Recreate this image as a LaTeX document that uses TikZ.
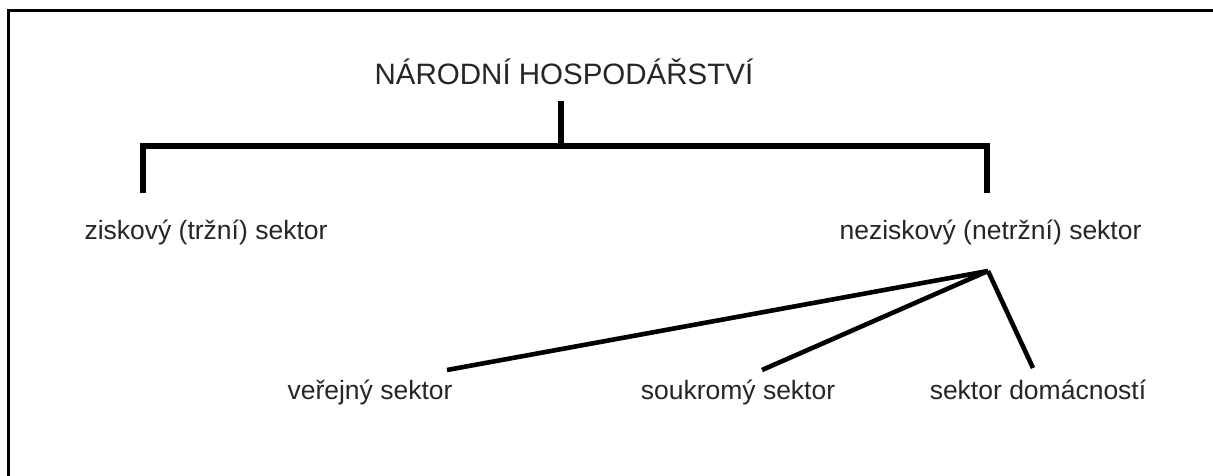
\documentclass[tikz,border=0pt]{standalone}
\usepackage{fontspec}
\setmainfont{Liberation Sans}
\begin{document}
\begin{tikzpicture}[x=1pt,y=-1pt,
  label/.style={inner sep=0pt,anchor=base,text=black!85,font=\fontsize{26.5}{30}\selectfont},
  headlabel/.style={label,font=\fontsize{29.5}{34}\selectfont},
  bracket/.style={line width=6pt,line join=miter,black},
  branch/.style={line width=4.6pt,line cap=butt,black},
  frame/.style={line width=3pt,black}]
  \useasboundingbox (0,0) rectangle (1213,475);
  \fill[white] (0,0) rectangle (1213,475);
  % outer frame, running past the right and bottom edges
  \draw[frame] (1220,10.3) -- (8.7,10.3) -- (8.7,480);

  % labels
  \node[headlabel] (root) at (564,84) {NÁRODNÍ HOSPODÁŘSTVÍ};
  \node[label] (zisk) at (206,239) {ziskový (tržní) sektor};
  \node[label] (nezisk) at (990.5,239) {neziskový (netržní) sektor};
  \node[label] (verej) at (370,399) {veřejný sektor};
  \node[label] (soukr) at (738,399) {soukromý sektor};
  \node[label] (domac) at (1038,399) {sektor domácností};

  % bracket under the root
  \coordinate (stemtop) at (561,101);
  \coordinate (barmid) at (561,145.5);
  \coordinate (lefttip) at (143,192.5);
  \coordinate (righttip) at (987,192.5);
  \draw[bracket] (stemtop) -- (barmid);
  \draw[bracket] (lefttip) |- (barmid) -| (righttip);

  % fan below the non-profit sector
  \coordinate (apex) at (988,271);
  \coordinate (verejtip) at (447,370);
  \coordinate (soukrtip) at (762,370);
  \coordinate (domactip) at (1033,368);
  \draw[branch] (apex) -- (verejtip);
  \draw[branch] (apex) -- (soukrtip);
  \draw[branch] (apex) -- (domactip);
\end{tikzpicture}
\end{document}
